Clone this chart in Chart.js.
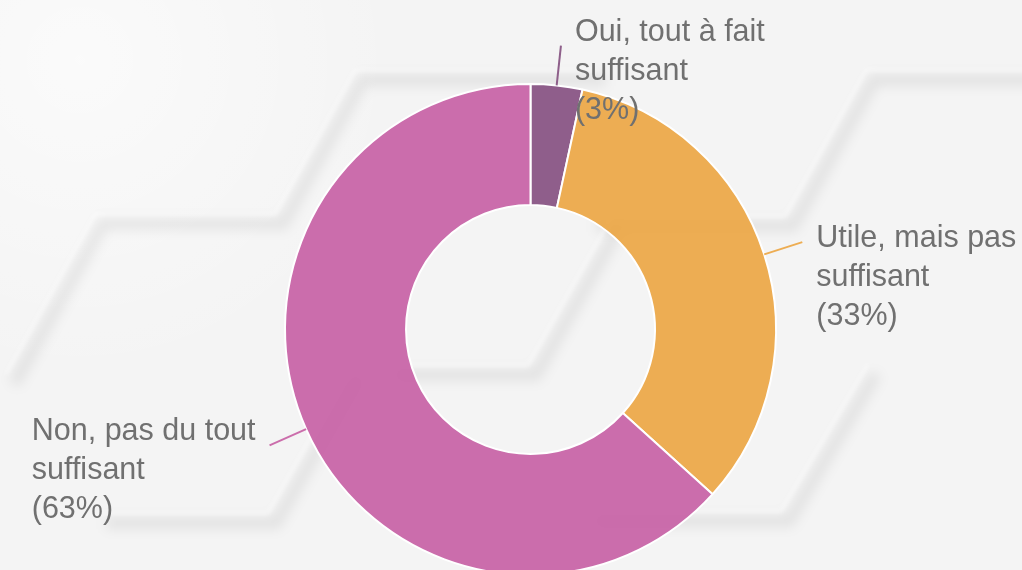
<!DOCTYPE html>
<html><head><meta charset="utf-8">
<script src="https://cdn.jsdelivr.net/npm/chart.js@4.4.1/dist/chart.umd.min.js"></script>
<style>
html,body{margin:0;padding:0;width:1022px;height:570px;overflow:hidden;background:#f5f5f5;}
#wrap{position:relative;width:1022px;height:660px;}
</style></head><body>
<div id="wrap"><canvas id="c"></canvas></div>
<script>
// ---- data ----
const categories = [
  ['Oui, tout à fait', 'suffisant'],
  ['Utile, mais pas', 'suffisant'],
  ['Non, pas du tout', 'suffisant']
];
const values = [3.4, 33.3, 63.3];
const sliceColors = ['rgba(132,78,127,0.9)', 'rgba(236,165,65,0.9)', 'rgba(198,94,164,0.9)'];
const lineColors = ['#8e5f8a', '#edad53', '#cb6dab'];

// ---- decorative hexagon background ----
const bgPlugin = {
  id: 'bg',
  beforeDraw(chart) {
    const ctx = chart.ctx;
    ctx.save();
    ctx.fillStyle = '#f4f4f4';
    ctx.fillRect(0, 0, chart.width, chart.height);
    const g = ctx.createRadialGradient(80, 60, 0, 80, 60, 320);
    g.addColorStop(0, 'rgba(255,255,255,0.6)');
    g.addColorStop(1, 'rgba(255,255,255,0)');
    ctx.fillStyle = g;
    ctx.fillRect(0, 0, chart.width, chart.height);
    const edges = [
      [[600, 72], [357, 72], [277, 216], [97, 216], [8, 376]],
      [[1030, 72], [868, 72], [787, 218], [590, 218]],
      [[390, 367], [530, 367], [613, 220]],
      [[100, 515], [270, 515], [353, 369]],
      [[590, 513], [783, 513], [870, 366]]
    ];
    const path = (p, dx, dy) => {
      ctx.beginPath();
      p.forEach((pt, i) => i ? ctx.lineTo(pt[0] + dx, pt[1] + dy) : ctx.moveTo(pt[0] + dx, pt[1] + dy));
    };
    ctx.lineJoin = 'miter';
    edges.forEach(p => {
      ctx.filter = 'blur(6px)';
      ctx.strokeStyle = 'rgba(0,0,0,0.07)';
      ctx.lineWidth = 12;
      path(p, 6, 8);
      ctx.stroke();
      ctx.filter = 'blur(2px)';
      ctx.strokeStyle = 'rgba(255,255,255,0.55)';
      ctx.lineWidth = 3;
      path(p, -2, -2);
      ctx.stroke();
    });
    ctx.filter = 'none';
    ctx.restore();
  }
};

// ---- labels with leader lines ----
const labelNudge = [-13, -4, -14];
const labelPlugin = {
  id: 'sliceLabels',
  afterDatasetsDraw(chart) {
    const ctx = chart.ctx;
    const meta = chart.getDatasetMeta(0);
    const total = values.reduce((a, b) => a + b, 0);
    ctx.save();
    meta.data.forEach((arc, i) => {
      const { x, y, startAngle, endAngle, outerRadius } =
        arc.getProps(['x', 'y', 'startAngle', 'endAngle', 'outerRadius'], true);
      const mid = (startAngle + endAngle) / 2;
      const c = Math.cos(mid), s = Math.sin(mid);
      const x1 = x + c * outerRadius, y1 = y + s * outerRadius;
      const x2 = x + c * (outerRadius + 40), y2 = y + s * (outerRadius + 40);
      ctx.strokeStyle = lineColors[i];
      ctx.lineWidth = 2;
      ctx.beginPath();
      ctx.moveTo(x1, y1);
      ctx.lineTo(x2, y2);
      ctx.stroke();
      const lines = [...categories[i], '(' + Math.round(values[i] / total * 100) + '%)'];
      ctx.font = '30.5px "Liberation Sans", Arial, sans-serif';
      const w = Math.max(...lines.map(l => ctx.measureText(l).width));
      const tx = c >= 0 ? x2 + 14 : x2 - 14 - w;
      ctx.textAlign = 'left';
      ctx.textBaseline = 'middle';
      ctx.fillStyle = '#707070';
      lines.forEach((l, k) => ctx.fillText(l, tx, y2 + labelNudge[i] + k * 39));
    });
    ctx.restore();
  }
};

new Chart(document.getElementById('c'), {
  type: 'doughnut',
  data: {
    labels: categories,
    datasets: [{
      data: values,
      backgroundColor: sliceColors,
      borderColor: '#ffffff',
      borderWidth: 2,
      hoverOffset: 0
    }]
  },
  options: {
    responsive: true,
    maintainAspectRatio: false,
    animation: false,
    cutout: '50.7%',
    layout: { padding: { left: 284, right: 245, top: 83, bottom: 84 } },
    plugins: {
      legend: { display: false },
      tooltip: { enabled: false }
    }
  },
  plugins: [bgPlugin, labelPlugin]
});
</script>
</body></html>
